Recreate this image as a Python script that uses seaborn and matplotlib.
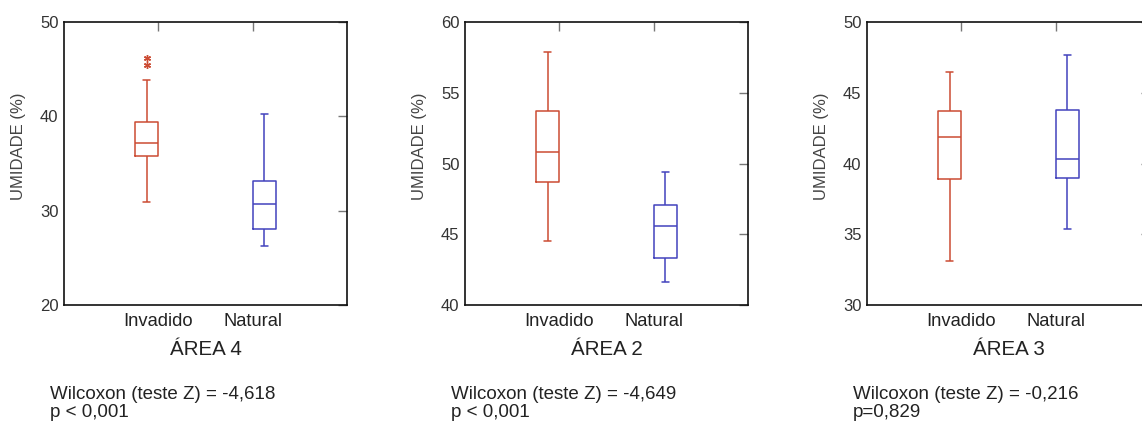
import numpy as np
import pandas as pd
import matplotlib
matplotlib.use("Agg")
import matplotlib.pyplot as plt
import seaborn as sns

# ---- data ----
areas = ["ÁREA 4", "ÁREA 2", "ÁREA 3"]
groups = ["Invadido", "Natural"]
# per area: [Invadido, Natural]
whisker_low = [[30.9, 26.3], [44.5, 41.6], [33.1, 35.4]]
q1          = [[35.8, 28.1], [48.7, 43.3], [38.9, 39.0]]
median      = [[37.2, 30.7], [50.8, 45.6], [41.9, 40.3]]
q3          = [[39.4, 33.1], [53.7, 47.1], [43.7, 43.8]]
whisker_high= [[43.9, 40.3], [57.9, 49.4], [46.5, 47.7]]
outliers    = [[[45.4, 46.2], []], [[], []], [[], []]]
y_ticks = [[20, 30, 40, 50], [40, 45, 50, 55, 60], [30, 35, 40, 45, 50]]
stats_text = ["Wilcoxon (teste Z) = -4,618\np < 0,001",
              "Wilcoxon (teste Z) = -4,649\np < 0,001",
              "Wilcoxon (teste Z) = -0,216\np=0,829"]
y_label = "UMIDADE (%)"

# ---- build sample tables that reproduce the five-number summaries ----
def sample(lo, a, m, b, hi, outs):
    k = len(outs)
    r = k + 1
    return [lo] + [a] * r + [m] * r + [b] * r + [hi] + sorted(outs)

frames = []
for i in range(3):
    rows = []
    for j, g in enumerate(groups):
        vals = sample(whisker_low[i][j], q1[i][j], median[i][j], q3[i][j],
                      whisker_high[i][j], outliers[i][j])
        rows += [(g, v) for v in vals]
    frames.append(pd.DataFrame(rows, columns=["grupo", "umidade"]))

red = "#CC4B33"
blue = "#4343BD"
palette = {"Invadido": red, "Natural": blue}

sns.set_style("white")
plt.rcParams["font.family"] = ["Liberation Sans", "DejaVu Sans"]

fig = plt.figure(figsize=(11.42, 4.23), dpi=100)
W, H = 1142, 423
lefts = [64, 465, 867]
ax_w, ax_h = 283, 283
ax_top = 22

for i in range(3):
    ax = fig.add_axes([lefts[i] / W, 1 - (ax_top + ax_h) / H, ax_w / W, ax_h / H])
    sns.boxplot(data=frames[i], x="grupo", y="umidade", hue="grupo",
                order=groups, hue_order=groups, palette=palette,
                dodge=True, width=0.5, fill=False, linewidth=1.1,
                whis=1.5, legend=False, ax=ax,
                flierprops=dict(marker=(6, 2, 0), markersize=5,
                                markeredgecolor=red, markeredgewidth=1.0),
                capwidths=0.07)
    ax.set_xlim(-1, 2)
    ax.set_ylim(y_ticks[i][0], y_ticks[i][-1])
    ax.set_yticks(y_ticks[i])
    ax.set_xticks([0, 1])
    ax.set_xticklabels(groups, fontsize=13.2)
    ax.tick_params(axis="y", labelsize=12, colors="#333333")
    ax.tick_params(axis="both", direction="in", length=6.5, width=1,
                   color="#777777", top=True, right=True, pad=4)
    ax.tick_params(axis="x", pad=6, labelcolor="#222222")
    for s in ax.spines.values():
        s.set_visible(True)
        s.set_color("#111111")
        s.set_linewidth(1.2)
    ax.set_xlabel(areas[i], fontsize=14.8, color="#222222", labelpad=7)
    ax.set_ylabel(y_label, fontsize=12, color="#444444")
    ax.yaxis.set_label_coords(-0.135, 0.56)
    fig.text((lefts[i] - 14) / W, 1 - 386 / H, stats_text[i], fontsize=13.5,
             color="#222222", va="top", ha="left", linespacing=1.1)

fig.savefig("out.png", dpi=100, facecolor="white")
